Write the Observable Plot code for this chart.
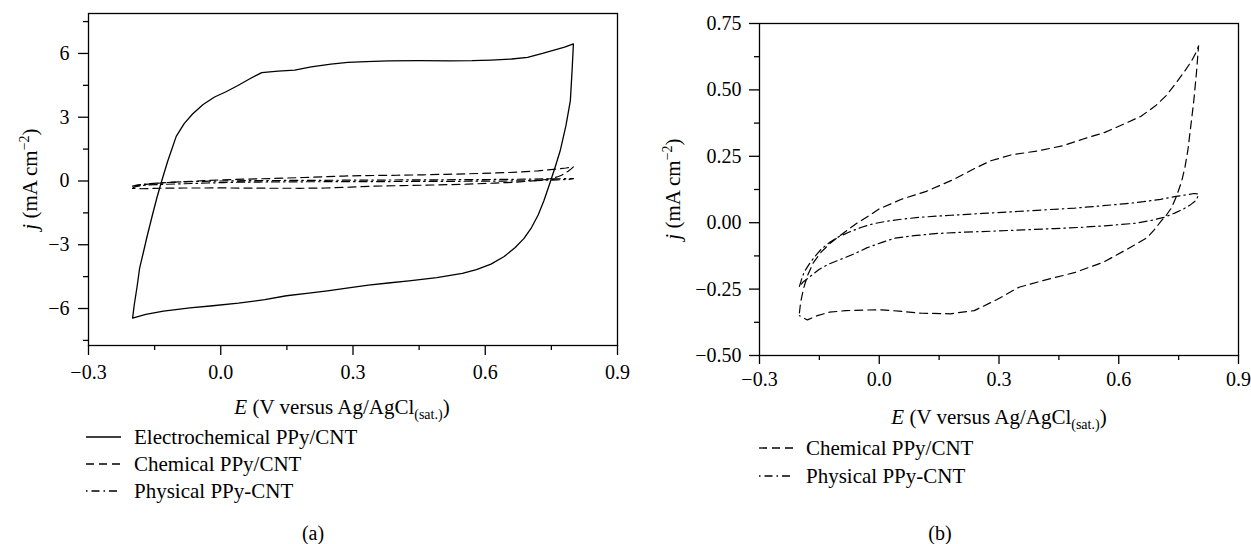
<!DOCTYPE html>
<html><head><meta charset="utf-8">
<script src="https://cdn.jsdelivr.net/npm/d3@7"></script>
<script src="https://cdn.jsdelivr.net/npm/@observablehq/plot@0.6"></script>
<style>
html,body{margin:0;padding:0;background:#fff;}
#root{position:relative;width:1251px;height:544px;overflow:hidden;font-family:"Liberation Serif","Times New Roman",serif;color:#000;background:#fff;}
#root > svg{position:absolute;}
.t{position:absolute;line-height:0;white-space:nowrap;font-size:21px;}
.c{transform:translateX(-50%);}
.sub{position:relative;top:5px;font-size:14px;}
.sup{position:relative;top:-8px;font-size:14px;}
.rot{position:absolute;width:0;height:0;transform:rotate(-90deg);transform-origin:0 0;}
.rot > span{position:absolute;left:0;top:0;line-height:0;white-space:nowrap;font-size:21px;transform:translateX(-50%);}
.sw{position:absolute;overflow:visible;}
</style></head>
<body><div id="root"></div>
<script>
// ---- axis ticks ----
const xTicks = [-0.3, 0, 0.3, 0.6, 0.9];
const xMinor = [-0.15, 0.15, 0.45, 0.75];
const yTicksA = [-6, -3, 0, 3, 6];
const yMinorA = [-7.5, -4.5, -1.5, 1.5, 4.5, 7.5];
const yTicksB = [-0.5, -0.25, 0, 0.25, 0.5, 0.75];
const yMinorB = [-0.375, -0.125, 0.125, 0.375, 0.625];
const seriesNames = ["Electrochemical PPy/CNT", "Chemical PPy/CNT", "Physical PPy-CNT"];

// ---- Electrochemical PPy/CNT (E in V, j in mA cm^-2) ----
const electroE = [-0.2, -0.196, -0.19, -0.184, -0.176, -0.167, -0.155, -0.145, -0.134, -0.12, -0.101, -0.083, -0.064, -0.04, -0.014, 0.012, 0.038, 0.065, 0.093, 0.13, 0.168, 0.205, 0.25, 0.288, 0.33, 0.381, 0.45, 0.52, 0.57, 0.613, 0.66, 0.696, 0.73, 0.752, 0.78, 0.8,
  0.797, 0.793, 0.783, 0.77, 0.757, 0.745, 0.733, 0.72, 0.705, 0.688, 0.668, 0.643, 0.613, 0.58, 0.548, 0.49, 0.427, 0.38, 0.335, 0.29, 0.242, 0.195, 0.149, 0.1, 0.04, -0.018, -0.07, -0.13, -0.17, -0.2];
const electroJ = [-6.45, -5.8, -5.0, -4.1, -3.4, -2.6, -1.6, -0.8, 0.0, 0.95, 2.1, 2.7, 3.15, 3.6, 3.95, 4.2, 4.48, 4.8, 5.1, 5.17, 5.22, 5.37, 5.5, 5.58, 5.62, 5.65, 5.66, 5.65, 5.66, 5.69, 5.74, 5.82, 6.0, 6.13, 6.3, 6.45,
  5.2, 3.77, 2.6, 1.42, 0.55, -0.2, -0.93, -1.6, -2.19, -2.7, -3.13, -3.55, -3.91, -4.17, -4.35, -4.55, -4.70, -4.8, -4.9, -5.03, -5.17, -5.29, -5.4, -5.58, -5.75, -5.87, -5.97, -6.12, -6.28, -6.45];

// ---- Chemical PPy/CNT ----
const chemE = [-0.2, -0.197, -0.19, -0.18, -0.165, -0.145, -0.125, -0.104, -0.08, -0.054, -0.025, 0.0, 0.057, 0.118, 0.188, 0.24, 0.279, 0.33, 0.4, 0.46, 0.511, 0.565, 0.612, 0.655, 0.692, 0.72, 0.743, 0.765, 0.783, 0.795, 0.8,
  0.795, 0.788, 0.781, 0.773, 0.766, 0.758, 0.746, 0.733, 0.72, 0.707, 0.69, 0.672, 0.65, 0.622, 0.561, 0.491, 0.41, 0.35, 0.294, 0.238, 0.178, 0.107, 0.05, 0.006, -0.04, -0.084, -0.125, -0.155, -0.18, -0.2];
const chemJ = [-0.34, -0.3, -0.25, -0.2, -0.15, -0.11, -0.08, -0.055, -0.028, 0.0, 0.027, 0.052, 0.089, 0.118, 0.164, 0.205, 0.233, 0.255, 0.271, 0.29, 0.315, 0.34, 0.371, 0.4, 0.44, 0.48, 0.525, 0.57, 0.61, 0.645, 0.666,
  0.57, 0.459, 0.37, 0.271, 0.21, 0.158, 0.105, 0.058, 0.03, 0.008, -0.025, -0.055, -0.075, -0.099, -0.149, -0.187, -0.218, -0.243, -0.29, -0.331, -0.343, -0.341, -0.333, -0.328, -0.329, -0.331, -0.337, -0.35, -0.366, -0.35];

// ---- Physical PPy-CNT ----
const physE = [-0.2, -0.195, -0.188, -0.175, -0.16, -0.145, -0.125, -0.104, -0.075, -0.044, -0.015, 0.017, 0.06, 0.107, 0.18, 0.259, 0.33, 0.41, 0.49, 0.561, 0.62, 0.662, 0.705, 0.743, 0.77, 0.788, 0.8,
  0.797, 0.793, 0.78, 0.763, 0.74, 0.713, 0.68, 0.642, 0.58, 0.511, 0.44, 0.36, 0.28, 0.208, 0.14, 0.087, 0.04, 0.007, -0.03, -0.064, -0.095, -0.125, -0.15, -0.175, -0.19, -0.2];
const physJ = [-0.24, -0.215, -0.185, -0.155, -0.125, -0.099, -0.075, -0.055, -0.035, -0.017, -0.004, 0.005, 0.014, 0.021, 0.028, 0.035, 0.041, 0.048, 0.055, 0.064, 0.072, 0.079, 0.088, 0.099, 0.105, 0.11, 0.108,
  0.095, 0.083, 0.068, 0.052, 0.036, 0.02, 0.008, -0.002, -0.01, -0.017, -0.022, -0.027, -0.032, -0.036, -0.041, -0.049, -0.058, -0.074, -0.094, -0.118, -0.137, -0.155, -0.175, -0.205, -0.222, -0.24];

const toRows = (E, J) => E.map((e, i) => ({E: e, j: J[i]}));
const electro = toRows(electroE, electroJ);
const chem = toRows(chemE, chemJ);
const phys = toRows(physE, physJ);

const DASH = "8,5";
const DASHDOT = "8,4,1.5,4";
const FONT = "'Liberation Serif','Times New Roman',serif";
const styleObj = {fontFamily: FONT, fontSize: "20px", color: "black", background: "transparent", overflow: "visible"};
const fmtX = d3.format(".1f");

const root = document.getElementById("root");

// ---- Panel (a) ----
const plotA = Plot.plot({
  width: 625, height: 390,
  marginLeft: 88, marginRight: 8, marginTop: 13, marginBottom: 45,
  style: styleObj,
  x: {domain: [-0.3, 0.9]},
  y: {domain: [-7.74, 7.88]},
  marks: [
    Plot.line(electro, {x: "E", y: "j", stroke: "black", strokeWidth: 1.3}),
    Plot.line(chem, {x: "E", y: "j", stroke: "black", strokeWidth: 1.2, strokeDasharray: DASH}),
    Plot.line(phys, {x: "E", y: "j", stroke: "black", strokeWidth: 1.2, strokeDasharray: DASHDOT}),
    Plot.axisX({ticks: xTicks, tickSize: 10, tickPadding: 9, tickFormat: fmtX, label: null, fontSize: 20, strokeWidth: 1.3}),
    Plot.axisX({ticks: xMinor, tickSize: 5, tickFormat: () => "", label: null, strokeWidth: 1.3}),
    Plot.axisY({ticks: yTicksA, tickSize: 10, tickPadding: 9, tickFormat: d3.format("d"), label: null, fontSize: 20, strokeWidth: 1.3}),
    Plot.axisY({ticks: yMinorA, tickSize: 5, tickFormat: () => "", label: null, strokeWidth: 1.3}),
    Plot.frame({stroke: "black", strokeWidth: 1.3})
  ]
});
plotA.style.left = "0px"; plotA.style.top = "0px";
root.appendChild(plotA);

// ---- Panel (b) ----
const plotB = Plot.plot({
  width: 626, height: 400,
  marginLeft: 134, marginRight: 13, marginTop: 23, marginBottom: 45,
  style: styleObj,
  x: {domain: [-0.3, 0.9]},
  y: {domain: [-0.5, 0.75]},
  marks: [
    Plot.line(chem, {x: "E", y: "j", stroke: "black", strokeWidth: 1.2, strokeDasharray: DASH}),
    Plot.line(phys, {x: "E", y: "j", stroke: "black", strokeWidth: 1.2, strokeDasharray: DASHDOT}),
    Plot.axisX({ticks: xTicks, tickSize: 9, tickPadding: 7, tickFormat: fmtX, label: null, fontSize: 20, strokeWidth: 1.3}),
    Plot.axisX({ticks: xMinor, tickSize: 5, tickFormat: () => "", label: null, strokeWidth: 1.3}),
    Plot.axisY({ticks: yTicksB, tickSize: 10, tickPadding: 8, tickFormat: d3.format(".2f"), label: null, fontSize: 20, strokeWidth: 1.3}),
    Plot.axisY({ticks: yMinorB, tickSize: 5, tickFormat: () => "", label: null, strokeWidth: 1.3}),
    Plot.frame({stroke: "black", strokeWidth: 1.3})
  ]
});
plotB.style.left = "625px"; plotB.style.top = "0px";
root.appendChild(plotB);

// ---- text helpers ----
function addText(html, x, y, center, size) {
  const d = document.createElement("div");
  d.className = "t" + (center ? " c" : "");
  d.style.left = x + "px"; d.style.top = y + "px";
  if (size) d.style.fontSize = size + "px";
  d.innerHTML = html;
  root.appendChild(d);
}
function addYTitle(x, y) {
  const d = document.createElement("div");
  d.className = "rot";
  d.style.left = x + "px"; d.style.top = y + "px";
  d.innerHTML = '<span><i>j</i> (mA cm<span class="sup">−2</span>)</span>';
  root.appendChild(d);
}
function addSwatch(x, y, dash) {
  const ns = "http://www.w3.org/2000/svg";
  const s = document.createElementNS(ns, "svg");
  s.setAttribute("class", "sw");
  s.setAttribute("width", 36); s.setAttribute("height", 6);
  s.style.left = x + "px"; s.style.top = (y - 3) + "px";
  const l = document.createElementNS(ns, "line");
  l.setAttribute("x1", 0); l.setAttribute("x2", 35);
  l.setAttribute("y1", 3); l.setAttribute("y2", 3);
  l.setAttribute("stroke", "#000"); l.setAttribute("stroke-width", 1.3);
  if (dash) l.setAttribute("stroke-dasharray", dash);
  s.appendChild(l);
  root.appendChild(s);
}
const xTitle = '<i>E</i> (V versus Ag/AgCl<span class="sub">(sat.)</span>)';

// panel (a) annotations
addText(xTitle, 342, 407, true);
addYTitle(30, 179);
const dashesA = [null, DASH, "1.5,4,8,4"];
[437, 464, 491].forEach((y, i) => {
  addSwatch(86, y, dashesA[i]);
  addText(seriesNames[i], 134, y, false);
});
addText("(a)", 313, 533, true, 20);

// panel (b) annotations
addText(xTitle, 999, 417, true);
addYTitle(673, 189);
[448, 476].forEach((y, i) => {
  addSwatch(759, y, dashesA[i + 1]);
  addText(seriesNames[i + 1], 806, y, false);
});
addText("(b)", 940, 533, true, 20);
</script></body></html>
